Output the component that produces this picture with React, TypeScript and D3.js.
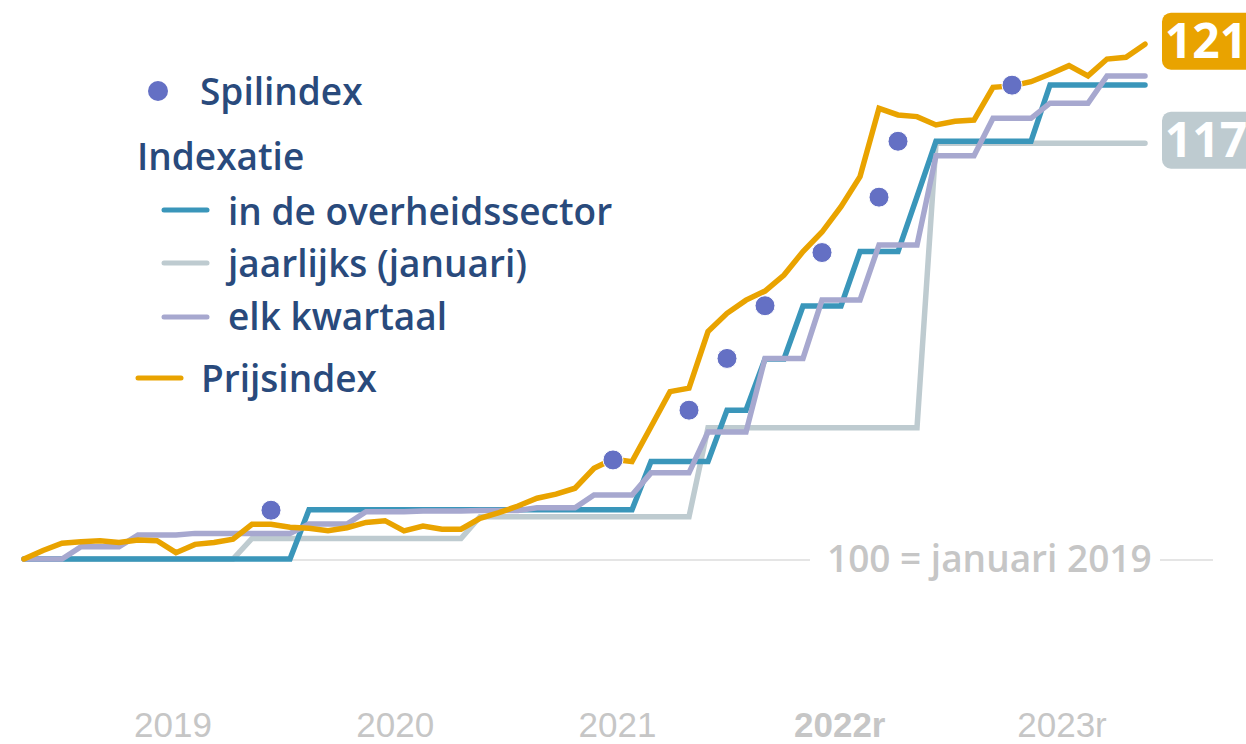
import React from "react";
import * as d3 from "d3";

// ---- data ----
const months: string[] = d3
  .timeMonths(new Date(2019, 0, 1), new Date(2024, 0, 1))
  .map((d) => d3.timeFormat("%Y-%m")(d));

const prijsindex = [
  100.0, 100.35, 100.65, 100.71, 100.75, 100.68, 100.78, 100.75, 100.26, 100.6, 100.68, 100.81,
  101.42, 101.42, 101.3, 101.26, 101.16, 101.28, 101.5, 101.57, 101.15, 101.35, 101.22, 101.22,
  101.67, 101.9, 102.17, 102.49, 102.66, 102.9, 103.72, 104.09, 103.99, 105.42, 106.86, 107.0,
  109.32, 110.07, 110.61, 110.98, 111.64, 112.6, 113.4, 114.44, 115.67, 118.47, 118.2, 118.13,
  117.79, 117.94, 117.99, 119.33, 119.39, 119.56, 119.88, 120.22, 119.8, 120.49, 120.56, 121.1,
];

const overheid = [
  100, 100, 100, 100, 100, 100, 100, 100, 100, 100, 100, 100,
  100, 100, 100, 102.02, 102.02, 102.02, 102.02, 102.02, 102.02, 102.02, 102.02, 102.02,
  102.02, 102.02, 102.02, 102.02, 102.02, 102.02, 102.02, 102.02, 102.02, 104.0, 104.0, 104.0,
  104.0, 106.1, 106.1, 108.2, 108.2, 110.37, 110.37, 110.37, 112.6, 112.6, 112.6, 114.85,
  117.12, 117.12, 117.12, 117.12, 117.12, 117.12, 119.43, 119.43, 119.43, 119.43, 119.43, 119.43,
];

const jaarlijks = [
  100, 100, 100, 100, 100, 100, 100, 100, 100, 100, 100, 100,
  100.84, 100.84, 100.84, 100.84, 100.84, 100.84, 100.84, 100.84, 100.84, 100.84, 100.84, 100.84,
  101.73, 101.73, 101.73, 101.73, 101.73, 101.73, 101.73, 101.73, 101.73, 101.73, 101.73, 101.73,
  105.38, 105.38, 105.38, 105.38, 105.38, 105.38, 105.38, 105.38, 105.38, 105.38, 105.38, 105.38,
  117.04, 117.04, 117.04, 117.04, 117.04, 117.04, 117.04, 117.04, 117.04, 117.04, 117.04, 117.04,
];

const kwartaal = [
  100, 100, 100, 100.5, 100.5, 100.5, 100.98, 100.98, 100.98, 101.05, 101.05, 101.05,
  101.05, 101.05, 101.05, 101.43, 101.43, 101.43, 101.94, 101.94, 101.94, 101.97, 101.97, 101.97,
  101.99, 101.99, 101.99, 102.1, 102.1, 102.1, 102.62, 102.62, 102.62, 103.53, 103.53, 103.53,
  105.2, 105.2, 105.2, 108.22, 108.22, 108.22, 110.61, 110.61, 110.61, 112.87, 112.87, 112.87,
  116.53, 116.53, 116.53, 118.06, 118.06, 118.06, 118.68, 118.68, 118.68, 119.8, 119.8, 119.8,
];

const spilMonths = ["2020-02", "2021-08", "2021-12", "2022-02", "2022-04", "2022-07", "2022-10", "2022-11", "2023-05"];
const spilValues = [102.0, 104.06, 106.1, 108.22, 110.38, 112.56, 114.83, 117.12, 119.42];

const yearLabels = ["2019", "2020", "2021", "2022r", "2023r"];
const endLabels = [
  { text: "121", value: prijsindex[prijsindex.length - 1], color: "#E9A300" },
  { text: "117", value: jaarlijks[jaarlijks.length - 1], color: "#BECBD0" },
];

const C = {
  orange: "#E9A300",
  teal: "#3A96BA",
  grey: "#BECBD0",
  purple: "#A7A8CF",
  dot: "#6470C4",
  legendText: "#294A7C",
  axisText: "#C6C6C6",
};

export default function App() {
  const W = 1246;
  const H = 744;
  const x = d3.scalePoint<string>().domain(months).range([24, 1145]);
  const y = d3.scaleLinear().domain([100, 121]).range([559, 46.6]);
  const line = d3
    .line<number>()
    .x((_, i) => x(months[i]) as number)
    .y((d) => y(d));
  const yearX = d3.scalePoint<string>().domain(yearLabels).range([173, 1062]);

  const series = [
    { data: jaarlijks, color: C.grey },
    { data: overheid, color: C.teal },
    { data: kwartaal, color: C.purple },
    { data: prijsindex, color: C.orange },
  ];

  const font = "'Open Sans', 'Noto Sans', sans-serif";

  return (
    <svg
      width={W}
      height={H}
      style={{ position: "absolute", left: 0, top: 0, background: "#fff" }}
      fontFamily={font}
    >
      {/* baseline */}
      <line x1={24} x2={1213} y1={y(100) + 1} y2={y(100) + 1} stroke="#CCCCCC" strokeWidth={1.2} />
      <rect x={810} y={536} width={350} height={46} fill="#fff" />
      <text x={827} y={572} fontSize={37} fill={C.axisText} fontWeight={600}>
        100 = januari 2019
      </text>

      {series.map((s, k) => (
        <path
          key={k}
          d={line(s.data) || ""}
          fill="none"
          stroke={s.color}
          strokeWidth={5.5}
          strokeLinecap="round"
          strokeLinejoin="miter"
        />
      ))}

      {spilMonths.map((m, i) => (
        <circle key={m} cx={x(m) as number} cy={y(spilValues[i])} r={10} fill={C.dot} stroke="#fff" strokeWidth={1} />
      ))}

      {/* end labels */}
      {endLabels.map((l) => {
        const cy = y(l.value) - 3;
        return (
          <g key={l.text}>
            <rect x={1162} y={cy - 28.5} width={110} height={57} rx={9} fill={l.color} />
            <text
              x={1206}
              y={cy + 17}
              fontSize={48}
              fontWeight={700}
              fill="#fff"
              textAnchor="middle"
            >
              {l.text}
            </text>
          </g>
        );
      })}

      {/* year labels */}
      {yearLabels.map((t) => (
        <text
          key={t}
          x={yearX(t) as number}
          y={737}
          fontSize={35}
          fontWeight={t === "2022r" ? 700 : 400}
          fill={C.axisText}
          textAnchor="middle"
          fontFamily="'Liberation Sans', Arial, sans-serif"
        >
          {t}
        </text>
      ))}

      {/* legend */}
      <g fill={C.legendText} fontSize={37} fontWeight={600}>
        <circle cx={158} cy={91} r={10} fill={C.dot} />
        <text x={200} y={105}>Spilindex</text>
        <text x={137} y={170}>Indexatie</text>
        <line x1={164} x2={207} y1={210} y2={210} stroke={C.teal} strokeWidth={5} strokeLinecap="round" />
        <text x={228} y={225}>in de overheidssector</text>
        <line x1={164} x2={207} y1={263} y2={263} stroke={C.grey} strokeWidth={5} strokeLinecap="round" />
        <text x={228} y={277}>jaarlijks (januari)</text>
        <line x1={164} x2={207} y1={317} y2={317} stroke={C.purple} strokeWidth={5} strokeLinecap="round" />
        <text x={228} y={330}>elk kwartaal</text>
        <line x1={138} x2={181} y1={378} y2={378} stroke={C.orange} strokeWidth={5} strokeLinecap="round" />
        <text x={201} y={392}>Prijsindex</text>
      </g>
    </svg>
  );
}
